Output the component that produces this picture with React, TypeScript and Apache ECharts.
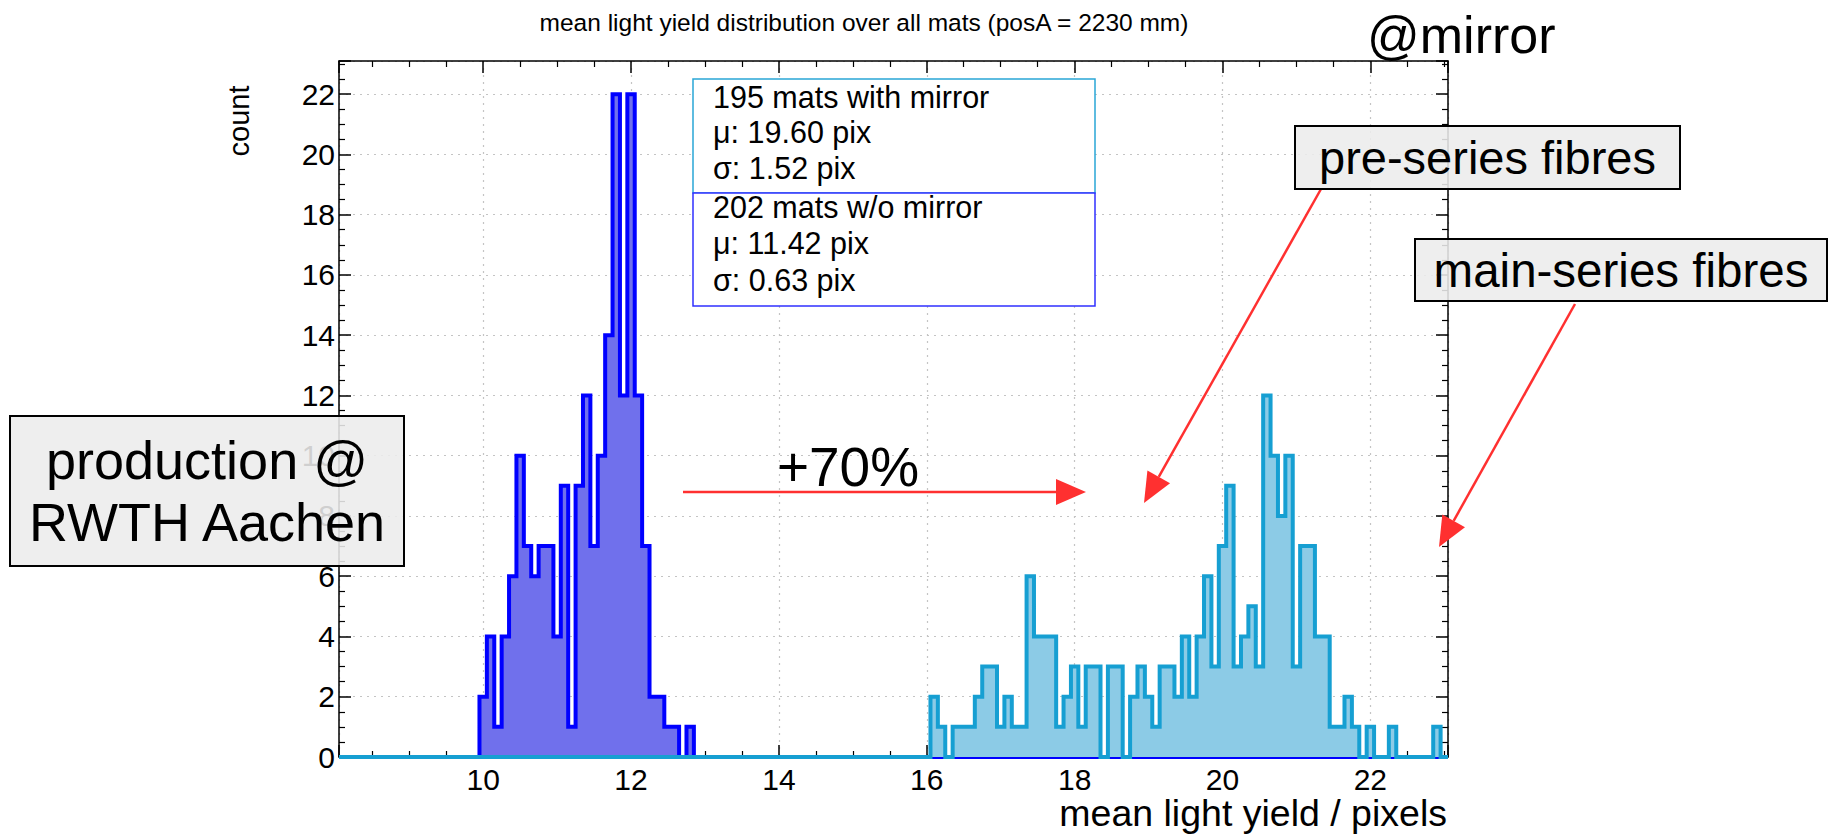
import React, { useEffect, useRef } from 'react';
import * as echarts from 'echarts';

// ---- data ----
const BIN_WIDTH = 0.1;
const X_MIN = 8.05;
const X_MAX = 23.05;
const Y_MAX = 23.1;

// mats without mirror (first bin centre 10.0)
const woMirrorFirstBin = 10.0;
const woMirrorCounts = [2, 4, 1, 4, 6, 10, 7, 6, 7, 7, 4, 9, 1, 9, 12, 7, 10, 14, 22, 12, 22, 12, 7, 2, 2, 1, 1, 0, 1];

// mats with mirror (first bin centre 16.1)
const withMirrorFirstBin = 16.1;
const withMirrorCounts = [
  2, 1, 0, 1, 1, 1, 2, 3, 3, 1,
  2, 1, 1, 6, 4, 4, 4, 1, 2, 3,
  1, 3, 3, 0, 3, 3, 0, 2, 3, 2,
  1, 3, 3, 2, 4, 2, 4, 6, 3, 7,
  9, 3, 4, 5, 3, 12, 10, 8, 10, 3,
  7, 7, 4, 4, 1, 1, 2, 1, 0, 1,
  0, 0, 1, 0, 0, 0, 0, 0, 1,
];

const legendWith = ['195 mats with mirror', 'μ: 19.60 pix', 'σ: 1.52 pix'];
const legendWithout = ['202 mats w/o mirror', 'μ: 11.42 pix', 'σ: 0.63 pix'];

const TITLE = 'mean light yield distribution over all mats (posA = 2230 mm)';
const X_TITLE = 'mean light yield / pixels';
const Y_TITLE = 'count';

const FONT = "'Liberation Sans', Arial, Helvetica, sans-serif";
const BLUE_LINE = '#0000ff';
const BLUE_FILL = '#7070ec';
const CYAN_LINE = '#169fd2';
const CYAN_FILL = '#8ccbe6';
const RED = '#ff3030';

function stepPoints(firstCentre: number, counts: number[]) {
  const pts: number[][] = [[X_MIN, 0]];
  let lastHi = 0;
  counts.forEach((c, i) => {
    const lo = Math.round((firstCentre + (i - 0.5) * BIN_WIDTH) * 1000) / 1000;
    const hi = Math.round((firstCentre + (i + 0.5) * BIN_WIDTH) * 1000) / 1000;
    if (i === 0) pts.push([lo, 0]);
    pts.push([lo, c], [hi, c]);
    lastHi = hi;
  });
  pts.push([lastHi, 0], [X_MAX, 0]);
  return pts;
}

function arrow(x1: number, y1: number, x2: number, y2: number) {
  const len = Math.hypot(x2 - x1, y2 - y1);
  const ux = (x2 - x1) / len;
  const uy = (y2 - y1) / len;
  const hl = 30;
  const hw = 13;
  const bx = x2 - ux * hl;
  const by = y2 - uy * hl;
  return [
    { type: 'line', z: 100, shape: { x1, y1, x2: bx, y2: by }, style: { stroke: RED, lineWidth: 2.5 } },
    {
      type: 'polygon', z: 100,
      shape: { points: [[x2, y2], [bx - uy * hw, by + ux * hw], [bx + uy * hw, by - ux * hw]] },
      style: { fill: RED },
    },
  ];
}

function boxText(x: number, y: number, w: number, h: number, lines: string[], fontSize: number, lineGap: number) {
  const cx = x + w / 2;
  const cy = y + h / 2;
  const els: any[] = [
    { type: 'rect', z: 100, shape: { x, y, width: w, height: h }, style: { fill: 'rgba(236,236,236,0.88)', stroke: '#000', lineWidth: 2 } },
  ];
  lines.forEach((t, i) => {
    els.push({
      type: 'text', z: 101, x: cx, y: cy + (i - (lines.length - 1) / 2) * lineGap,
      style: { text: t, fontSize, fontFamily: FONT, fill: '#000', align: 'center', verticalAlign: 'middle' },
    });
  });
  return els;
}

export default function App() {
  const ref = useRef<HTMLDivElement>(null);

  useEffect(() => {
    if (!ref.current) return;
    const chart = echarts.init(ref.current, undefined, { renderer: 'svg' });

    const axisCommon = {
      type: 'value' as const,
      axisLine: { show: true, onZero: false, lineStyle: { color: '#000', width: 1.5 } },
      axisTick: { show: true, inside: true, length: 12, lineStyle: { color: '#000', width: 1.5 } },
      minorTick: { show: true, splitNumber: 4, length: 6, lineStyle: { color: '#000', width: 1.2 } },
    };

    const legendEls: any[] = [
      { type: 'rect', z: 100, shape: { x: 693, y: 79, width: 402, height: 114 }, style: { fill: '#fff', stroke: '#2aa7d6', lineWidth: 1.5 } },
      { type: 'rect', z: 100, shape: { x: 693, y: 193, width: 402, height: 113 }, style: { fill: '#fff', stroke: '#3030ff', lineWidth: 1.5 } },
    ];
    [...legendWith, ...legendWithout].forEach((t, i) => {
      const ys = [97, 132, 168, 207, 243, 280];
      legendEls.push({
        type: 'text', z: 101, x: 713, y: ys[i],
        style: { text: t, fontSize: 30.5, fontFamily: FONT, fill: '#000', align: 'left', verticalAlign: 'middle' },
      });
    });

    const gridLine = { show: true, lineStyle: { type: [2, 5], color: '#c4c4c4', width: 1.2 } };

    chart.setOption({
      animation: false,
      backgroundColor: '#fff',
      grid: { left: 339, top: 61, width: 1109, height: 696, containLabel: false },
      xAxis: [
        {
          ...axisCommon,
          position: 'bottom',
          min: X_MIN, max: X_MAX, splitNumber: 7,
          axisLabel: {
            show: true, showMinLabel: false, showMaxLabel: false, margin: 7,
            fontSize: 30, fontFamily: FONT, color: '#000',
            formatter: (v: number) => (Number.isInteger(v) ? String(v) : ''),
          },
          splitLine: gridLine,
        },
        {
          ...axisCommon,
          position: 'top',
          min: X_MIN, max: X_MAX, splitNumber: 7,
          axisLabel: { show: false },
          splitLine: { show: false },
        },
      ],
      yAxis: [
        {
          ...axisCommon,
          position: 'left',
          min: 0, max: Y_MAX, interval: 2,
          axisLabel: {
            show: true, showMaxLabel: false, margin: 4,
            fontSize: 30, fontFamily: FONT, color: '#000',
          },
          splitLine: gridLine,
        },
        {
          ...axisCommon,
          position: 'right',
          min: 0, max: Y_MAX, interval: 2,
          axisLabel: { show: false },
          splitLine: { show: false },
        },
      ],
      series: [
        {
          name: '202 mats w/o mirror',
          type: 'line',
          xAxisIndex: 0, yAxisIndex: 0,
          data: stepPoints(woMirrorFirstBin, woMirrorCounts),
          symbol: 'none', showSymbol: false, clip: false,
          lineStyle: { color: BLUE_LINE, width: 4, join: 'miter' },
          areaStyle: { color: BLUE_FILL, opacity: 1 },
          z: 2,
        },
        {
          name: '195 mats with mirror',
          type: 'line',
          xAxisIndex: 0, yAxisIndex: 0,
          data: stepPoints(withMirrorFirstBin, withMirrorCounts),
          symbol: 'none', showSymbol: false, clip: false,
          lineStyle: { color: CYAN_LINE, width: 4, join: 'miter' },
          areaStyle: { color: CYAN_FILL, opacity: 1 },
          z: 3,
        },
      ],
      graphic: [
        {
          type: 'text', z: 100, x: 864, y: 22,
          style: { text: TITLE, fontSize: 24.5, fontFamily: FONT, fill: '#000', align: 'center', verticalAlign: 'middle' },
        },
        {
          type: 'text', z: 100, x: 1367, y: 35,
          style: { text: '@mirror', fontSize: 52, fontFamily: FONT, fill: '#000', align: 'left', verticalAlign: 'middle' },
        },
        {
          type: 'text', z: 100, x: 1447, y: 813,
          style: { text: X_TITLE, fontSize: 37.5, fontFamily: FONT, fill: '#000', align: 'right', verticalAlign: 'middle' },
        },
        {
          type: 'text', z: 100, x: 239, y: 121, rotation: Math.PI / 2,
          style: { text: Y_TITLE, fontSize: 29, fontFamily: FONT, fill: '#000', align: 'center', verticalAlign: 'middle' },
        },
        ...legendEls,
        {
          type: 'text', z: 100, x: 848, y: 467,
          style: { text: '+70%', fontSize: 55, fontFamily: FONT, fill: '#000', align: 'center', verticalAlign: 'middle' },
        },
        ...arrow(683, 492, 1086, 492),
        ...arrow(1321, 189, 1144, 503),
        ...arrow(1575, 304, 1439, 547),
        ...boxText(1295, 126, 385, 63, ['pre-series fibres'], 47, 0),
        ...boxText(1415, 239, 412, 62, ['main-series fibres'], 47.5, 0),
        ...boxText(10, 416, 394, 150, ['production @', 'RWTH Aachen'], 54, 62),
      ],
    });

    return () => chart.dispose();
  }, []);

  return (
    <div
      ref={ref}
      style={{ position: 'absolute', left: 0, top: 0, width: 1829, height: 836 }}
    />
  );
}
